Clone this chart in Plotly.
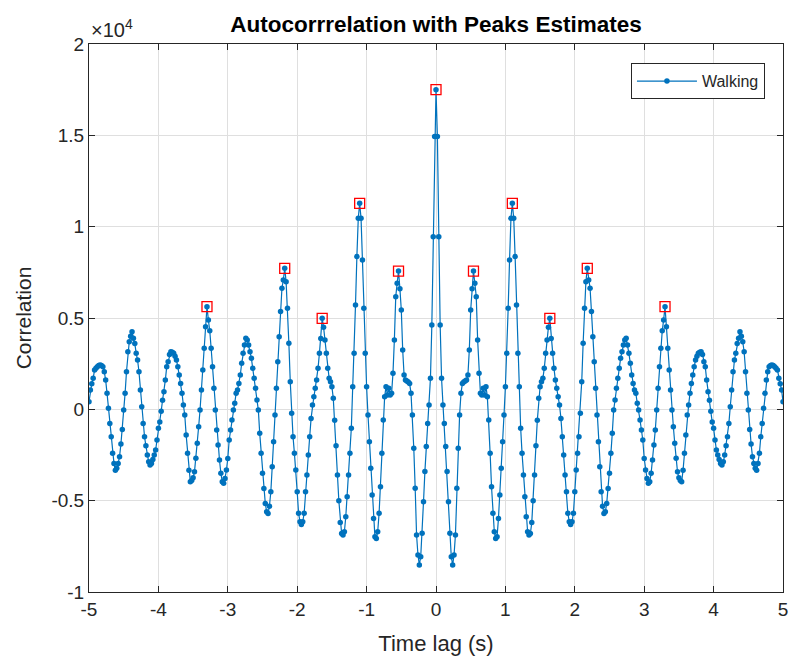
import numpy as np
import plotly.graph_objects as go

# Sampling step of the lag axis (s) and autocorrelation for non-negative lags (0 .. 5 s)
lag_step = 0.02
corr_pos = [
    17500, 14930, 9450, 4620, 1700, 240, -770, -2040, -3410, -5055,
    -6790, -8070, -8520, -7975, -6880, -4325, -2135, -310, 875, 1420,
    1500, 1550, 1600, 1880, 3250, 5440, 6600, 7570, 6900, 6170,
    3800, 1970, 875, 785, 1150, 785, 1240, 690, -585, -2410,
    -4235, -5695, -6700, -7065, -6975, -5970, -4690, -3230, -1770, -310,
    1240, 3065, 5530, 8175, 10455, 11280, 10455, 8360, 5710, 3065,
    1240, -1040, -2410, -3595, -4780, -5880, -6700, -6880, -6800, -6200,
    -5000, -3600, -2000, -600, 600, 1240, 1510, 1695, 2245, 3065,
    3790, 4500, 4980, 3880, 3065, 2245, 1600, 1150, 690, 235,
    -495, -1500, -2500, -3600, -4510, -5695, -6150, -6300, -6150, -5695,
    -4510, -3320, -2410, -1500, -220, 1515, 3615, 5530, 6990, 7720,
    7080, 6630, 5350, 3975, 2610, 1150, -310, -1770, -3140, -4510,
    -5300, -5700, -5600, -5150, -4330, -3500, -2410, -1315, -40, 510,
    1150, 1695, 2245, 2790, 3155, 3520, 3795, 3885, 3520, 3065,
    2520, 1880, 1420, 1055, 875, 330, -40, -585, -1130, -1680,
    -2690, -3320, -3780, -4050, -3960, -3500, -2770, -1955, -1130, -40,
    1150, 2335, 3340, 4300, 4890, 5620, 4520, 3340, 2150, 1055,
    -40, -950, -1860, -2680, -3420, -3750, -3900, -3960, -3330, -2410,
    -1410, -310, 235, 875, 1420, 1880, 2335, 2700, 2900, 3065,
    3120, 3155, 3000, 2600, 2335, 1600, 965, 500, -100, -700,
    -1040, -1680, -2230, -2500, -2750, -2960, -3050, -2870, -2500, -2000,
    -1500, -770, 145, 1055, 2060, 2700, 3065, 3610, 3885, 4250,
    4000, 3700, 3155, 2060, 875, -40, -1100, -1900, -2590, -2960,
    -3230, -3330, -2960, -2410, -1500, -770, 55, 875, 1600, 2060,
    2335, 2400, 2425, 2400, 2335, 2250, 2150, 1695, 1400, 1055,
    420,
]
# Sample indices (lag / step) of the marked peaks on the positive side
peak_idx_pos = [27, 55, 82, 109, 165]

y_tick_vals = [-10000, -5000, 0, 5000, 10000, 15000, 20000]
y_tick_text = ["-1", "-0.5", "0", "0.5", "1", "1.5", "2"]
x_tick_vals = [-5, -4, -3, -2, -1, 0, 1, 2, 3, 4, 5]
x_tick_text = ["-5", "-4", "-3", "-2", "-1", "0", "1", "2", "3", "4", "5"]

# autocorrelation is symmetric in lag
n = len(corr_pos) - 1
corr = np.array(corr_pos[:0:-1] + corr_pos, dtype=float)
lags = np.arange(-n, n + 1) * lag_step
peak_idx = sorted([n - k for k in peak_idx_pos] + [n] + [n + k for k in peak_idx_pos])

AX = "#262626"
GRID = "rgb(223,223,223)"
FONT = "Liberation Sans, Arial, sans-serif"

fig = go.Figure()
fig.add_trace(go.Scatter(
    x=lags, y=corr, mode="lines+markers", name="Walking",
    line=dict(color="#0072BD", width=1.2),
    marker=dict(color="#0072BD", size=5.5),
))
fig.add_trace(go.Scatter(
    x=lags[peak_idx], y=corr[peak_idx], mode="markers", showlegend=False,
    marker=dict(symbol="square-open", color="#FF0000", size=10, line=dict(width=1.3)),
))

axis_common = dict(
    showline=True, linecolor=AX, linewidth=1, mirror="ticks",
    ticks="inside", ticklen=6, tickcolor=AX, tickwidth=1,
    showgrid=True, gridcolor=GRID, gridwidth=1, zeroline=False,
    tickfont=dict(family=FONT, size=19, color=AX), automargin=False,
)

fig.update_layout(
    width=789, height=658,
    margin=dict(l=89, r=6, t=44, b=66),
    paper_bgcolor="white", plot_bgcolor="white",
    title=dict(text="<b>Autocorrrelation with Peaks Estimates</b>",
               x=(89 + 783) / 2 / 789, xanchor="center", y=1 - 24 / 658, yanchor="middle",
               font=dict(family=FONT, size=22.5, color="black")),
    xaxis=dict(range=[-5, 5], tickvals=x_tick_vals, ticktext=x_tick_text,
               title=dict(text="Time lag (s)", font=dict(family=FONT, size=22, color=AX), standoff=16),
               **axis_common),
    yaxis=dict(range=[-10000, 20000], tickvals=y_tick_vals, ticktext=y_tick_text,
               title=dict(text="Correlation", font=dict(family=FONT, size=21, color=AX), standoff=14),
               **axis_common),
    legend=dict(x=0.974, xanchor="right", y=0.965, yanchor="top",
                bgcolor="white", bordercolor=AX, borderwidth=1, itemwidth=60,
                font=dict(family=FONT, size=16, color=AX)),
    annotations=[dict(text="×10<sup>4</sup>", xref="paper", yref="paper", x=0, y=1,
                      xanchor="left", yanchor="bottom", yshift=1, showarrow=False,
                      font=dict(family=FONT, size=20, color=AX))],
)

fig.write_html("out.html")
